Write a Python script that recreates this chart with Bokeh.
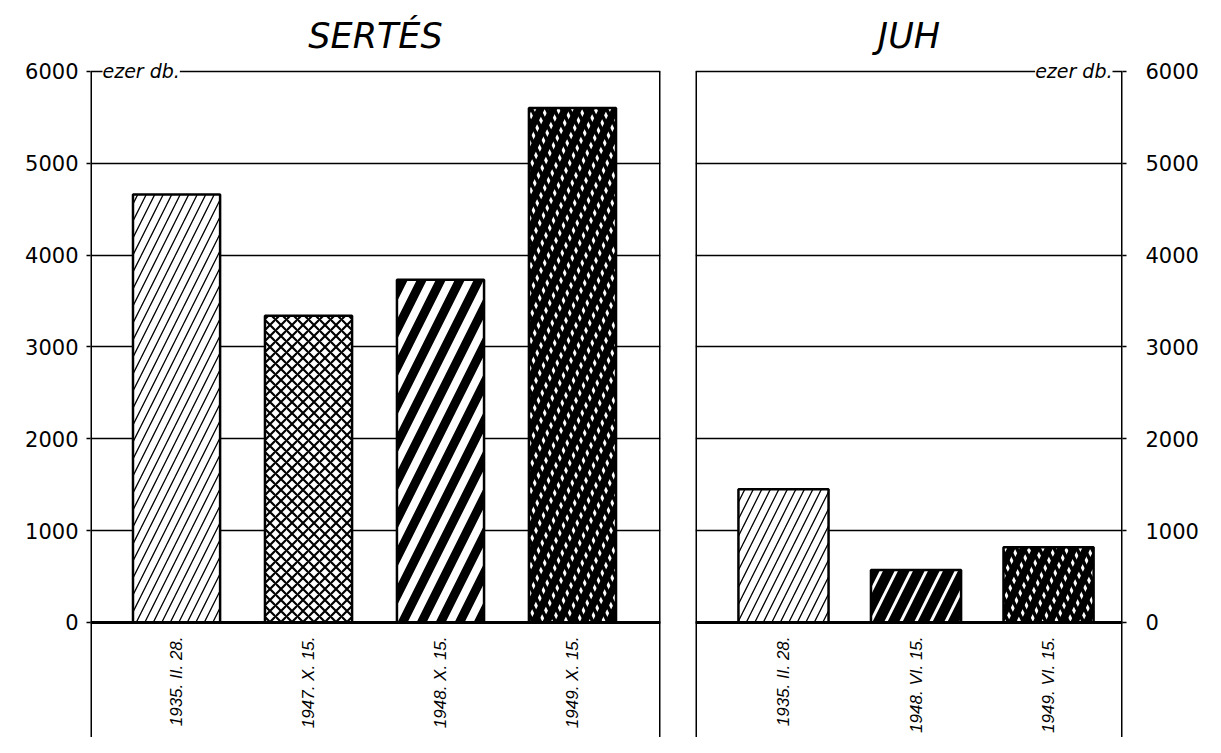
from math import pi
from bokeh.plotting import figure
from bokeh.layouts import row
from bokeh.models import Range1d, FixedTicker, Label, Span, ColumnDataSource
from bokeh.core.properties import value
from bokeh.embed import file_html
from bokeh.resources import INLINE

# ---- data ----
sertes_dates = ["1935. II. 28.", "1947. X. 15.", "1948. X. 15.", "1949. X. 15."]
sertes_values = [4660, 3340, 3730, 5600]
juh_dates = ["1935. II. 28.", "1948. VI. 15.", "1949. VI. 15."]
juh_values = [1450, 570, 820]
y_ticks = [0, 1000, 2000, 3000, 4000, 5000, 6000]
unit_label = "ezer db."
titles = ["SERTÉS", "JUH"]

# ---- styles (hatch pattern per bar) ----
sertes_styles = ["light", "cross", "stripe", "dots"]
juh_styles = ["light", "darkstripe", "dots"]

FONT = "DejaVu Sans"
LABEL_FONT = "Liberation Sans"
STYLES = {
    "light": [dict(fill_color="white", hatch_pattern="/", hatch_color="black", hatch_scale=17, hatch_weight=1.3)],
    "cross": [dict(fill_color="white", hatch_pattern="x", hatch_color="black", hatch_scale=11, hatch_weight=2.2)],
    "stripe": [dict(fill_color="white", hatch_pattern="/", hatch_color="black", hatch_scale=38, hatch_weight=9)],
    "darkstripe": [dict(fill_color="black", hatch_pattern="/", hatch_color="white", hatch_scale=30, hatch_weight=3)],
    "dots": [dict(fill_color="white", hatch_pattern="\\", hatch_color="black", hatch_scale=15, hatch_weight=3.5),
             dict(fill_color=None, hatch_pattern="/", hatch_color="black", hatch_scale=25, hatch_weight=7.5)],
}

Y_TOP = 6150
Y_BOTTOM = -1252


def make_panel(title, cats, vals, styles, x_start, x_end, bar_w, width, bl, br, side):
    p = figure(width=width, height=737,
               x_range=Range1d(x_start, x_end), y_range=Range1d(Y_BOTTOM, Y_TOP),
               x_axis_location=None, y_axis_location=side,
               output_backend="svg", toolbar_location=None,
               min_border_left=bl, min_border_right=br, min_border_top=57, min_border_bottom=0,
               outline_line_color=None, title=title)
    p.title.align = "center"
    p.title.text_font = FONT
    p.title.text_font_style = "italic"
    p.title.text_font_size = "35px"
    p.title.text_color = "black"
    p.title.standoff = 4

    ax = p.yaxis[0]
    ax.ticker = FixedTicker(ticks=y_ticks)
    ax.axis_line_color = None
    ax.major_tick_line_color = "black"
    ax.major_tick_line_width = 1.5
    ax.major_tick_in = 0
    ax.major_tick_out = 4
    ax.minor_tick_line_color = None
    ax.major_label_text_font = FONT
    ax.major_label_text_font_size = "21px"
    ax.major_label_text_color = "black"
    ax.major_label_standoff = 8 if side == "left" else 19

    p.ygrid.ticker = FixedTicker(ticks=y_ticks)
    p.ygrid.grid_line_color = "black"
    p.ygrid.grid_line_width = 1.5
    p.xgrid.visible = False

    # panel edges: from the top line (6000) down past the bottom
    p.segment(x0=[x_start, x_end], y0=[Y_BOTTOM, Y_BOTTOM], x1=[x_start, x_end], y1=[6000, 6000],
              line_color="black", line_width=3)
    p.add_layout(Span(location=0, dimension="width", line_color="black", line_width=3))

    idx = list(range(len(cats)))
    for st in sorted(set(styles)):
        sel = [i for i in idx if styles[i] == st]
        src = ColumnDataSource(dict(x=sel, top=[vals[i] for i in sel]))
        layers = STYLES[st]
        for k, lay in enumerate(layers):
            last = k == len(layers) - 1
            p.vbar(x="x", top="top", bottom=0, width=bar_w, source=src,
                   line_color="black" if last else None, line_width=2.5, **lay)

    p.text(x=idx, y=[0] * len(cats), text=cats, angle=pi / 2, y_offset=14,
           text_align="right", text_baseline="middle",
           text_font=value(LABEL_FONT), text_font_style="italic", text_font_size="17px",
           text_color="black")

    if side == "left":
        lab = Label(x=x_start, y=6000, x_offset=12, text=unit_label, text_align="left")
    else:
        lab = Label(x=x_end, y=6000, x_offset=-10, text=unit_label, text_align="right")
    lab.text_baseline = "middle"
    lab.text_font = FONT
    lab.text_font_style = "italic"
    lab.text_font_size = "19px"
    lab.text_color = "black"
    lab.background_fill_color = "white"
    p.add_layout(lab)
    return p


p1 = make_panel(titles[0], sertes_dates, sertes_values, sertes_styles,
                -0.652, 3.667, 0.66, 678, 90, 18, "left")
p2 = make_panel(titles[1], juh_dates, juh_values, juh_styles,
                -0.664, 2.558, 0.68, 527, 17, 83, "right")

layout = row(p1, p2, spacing=0)
open("out.html", "w").write(file_html(layout, INLINE))
